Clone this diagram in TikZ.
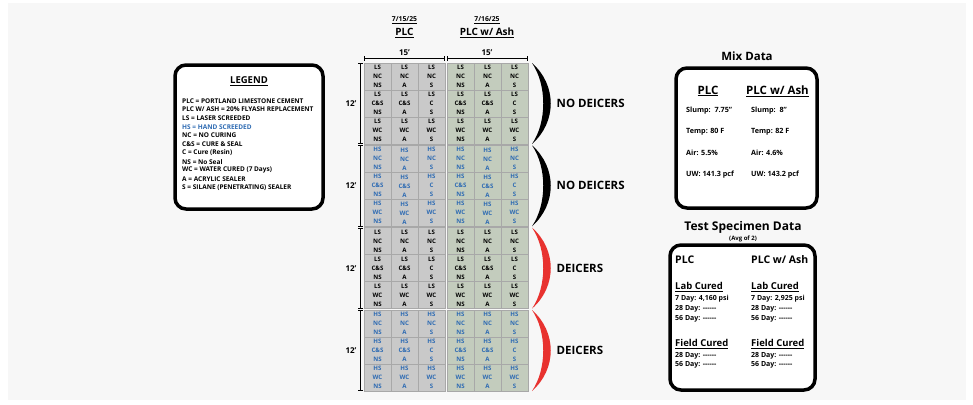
\documentclass[tikz,border=0pt]{standalone}
\usepackage{fontspec}
\setmainfont{Open Sans}
\usetikzlibrary{arrows.meta}
\definecolor{bgc}{HTML}{F7F7F7}
\definecolor{cellgrey}{HTML}{C9C9C9}
\definecolor{cellgreen}{HTML}{C3CCBD}
\definecolor{gridc}{HTML}{A8A8A8}
\definecolor{hsblue}{HTML}{2E6BB3}
\definecolor{brred}{HTML}{E8322F}
\newcommand{\fs}[2]{\fontsize{#1}{#2}\selectfont\bfseries}
\tikzset{
  cellbox/.style={draw=gridc, line width=0.5pt, minimum width=27pt, minimum height=27pt,
    inner sep=0pt, align=center, font=\fs{6.1}{9}},
  dimline/.style={line width=0.8pt, {Bar[width=5pt]}-{Bar[width=5pt]}},
  dimlabel/.style={font=\fs{8}{9}, inner sep=0pt},
  panel/.style={draw=black, line width=3.5pt, rounded corners=11pt, fill=white},
  sidetext/.style={font=\fs{11.5}{13}, anchor=west, inner sep=0pt},
  legitem/.style={font=\fs{6.5}{7}, anchor=west, inner sep=0pt},
  mixitem/.style={font=\fs{7.2}{8}, anchor=west, inner sep=0pt},
  testitem/.style={font=\fs{7}{8}, anchor=west, inner sep=0pt},
}
\begin{document}
\begin{tikzpicture}[x=1pt,y=-1pt]
\useasboundingbox (0,0) rectangle (973,404);
\fill[white] (0,0) rectangle (973,404);
\fill[bgc] (8,3) rectangle (966,400);

% headers
\node[font=\fs{6.8}{8}, inner sep=0pt] (d1) at (404.5,20) {\underline{7/15/25}};
\node[font=\fs{10}{12}, inner sep=0pt] (h1) at (404.5,33) {\underline{PLC}};
\node[font=\fs{6.8}{8}, inner sep=0pt] (d2) at (487,20) {\underline{7/16/25}};
\node[font=\fs{10}{12}, inner sep=0pt] (h2) at (487,33) {\underline{PLC w/ Ash}};

% horizontal dimensions
\coordinate (ga) at (364,58.5); \coordinate (gb) at (445,58.5);
\coordinate (na) at (447,58.5); \coordinate (nb) at (527.5,58.5);
\draw[dimline] (ga) -- (gb);
\draw[dimline] (na) -- (nb);
\node[dimlabel] (w1) at (404.5,52.5) {15'};
\node[dimlabel] (w2) at (487,52.5) {15'};

% cells
\foreach \s/\ty/\fw/\tc in {0/63/LS/black, 1/145.3/HS/hsblue, 2/227.6/LS/black, 3/310/HS/hsblue} {
  \foreach \b/\xb/\fc in {g/364/cellgrey, n/447/cellgreen} {
    \foreach \r/\mtx in {0/NC, 1/{C\&S}, 2/WC} {
      \foreach \c/\lw in {0/NS, 1/A, 2/S} {
        \ifnum\r=1 \ifnum\c=2 \def\mm{C}\else\def\mm{\mtx}\fi\else\def\mm{\mtx}\fi
        \node[cellbox, fill=\fc, text=\tc] (c\s\b\r\c) at (\xb+27*\c+13.5, \ty+27*\r+13.5) {\fw\\\mm\\\lw};
      }
    }
  }
  % vertical dimension
  \coordinate (va\s) at (360.5,\ty);
  \coordinate (vb\s) at (360.5,\ty+81);
  \draw[dimline] (va\s) -- (vb\s);
  \node[dimlabel] (hl\s) at (351,\ty+40.5) {12'};
}

% brackets
\foreach \s/\ty/\bc/\lab in {0/63/black/NO DEICERS, 1/145.3/black/NO DEICERS, 2/227.6/brred/DEICERS, 3/310/brred/DEICERS} {
  \fill[\bc] (532,\ty) .. controls (557,\ty+22) and (557,\ty+59) .. (532,\ty+81)
     .. controls (547,\ty+59) and (547,\ty+22) .. (532,\ty) -- cycle;
  \node[sidetext] (lab\s) at (556.5,\ty+40.5) {\lab};
}

% legend
\draw[panel] (175,65) rectangle (323,209);
\node[font=\fs{9.5}{10}, inner sep=0pt] (legt) at (249,81) {\underline{LEGEND}};
\node[legitem] (l1) at (182,100.7) {PLC = PORTLAND LIMESTONE CEMENT};
\node[legitem] (l2) at (182,109.4) {PLC W/ ASH = 20\% FLYASH REPLACEMENT};
\node[legitem] (l3) at (182,118.1) {LS = LASER SCREEDED};
\node[legitem, text=hsblue] (l4) at (182,126.8) {HS = HAND SCREEDED};
\node[legitem] (l5) at (182,135.5) {NC = NO CURING};
\node[legitem] (l6) at (182,144.2) {C\&S = CURE \& SEAL};
\node[legitem] (l7) at (182,152.9) {C = Cure (Resin)};
\node[legitem] (l8) at (182,161.6) {NS = No Seal};
\node[legitem] (l9) at (182,170.3) {WC = WATER CURED (7 Days)};
\node[legitem] (l10) at (182,179) {A = ACRYLIC SEALER};
\node[legitem] (l11) at (182,187.7) {S = SILANE (PENETRATING) SEALER};

% mix data
\node[font=\fs{11.5}{13}, inner sep=0pt] (mixt) at (747,56) {Mix Data};
\draw[panel] (676,68) rectangle (817,208);
\node[font=\fs{11.5}{13}, inner sep=0pt] (mh1) at (708,91) {\underline{PLC}};
\node[font=\fs{11.5}{13}, inner sep=0pt] (mh2) at (777.5,91) {\underline{PLC w/ Ash}};
\node[mixitem] (m1) at (686,111) {Slump:\ \ 7.75"};
\node[mixitem] (m2) at (686,132) {Temp: 80 F};
\node[mixitem] (m3) at (686,153) {Air: 5.5\%};
\node[mixitem] (m4) at (686,175) {UW: 141.3 pcf};
\node[mixitem] (n1) at (751,111) {Slump:\ \ 8"};
\node[mixitem] (n2) at (751,132) {Temp: 82 F};
\node[mixitem] (n3) at (751,153) {Air: 4.6\%};
\node[mixitem] (n4) at (751,175) {UW: 143.2 pcf};

% test specimen data
\node[font=\fs{12}{14}, inner sep=0pt] (tst) at (743,227) {Test Specimen Data};
\node[font=\fs{6}{7}, inner sep=0pt] (avg) at (743,239) {(Avg of 2)};
\draw[panel] (670,245) rectangle (815,390);
\node[font=\fs{10.5}{12}, anchor=west, inner sep=0pt] (tp1) at (675,260) {PLC};
\node[font=\fs{10.5}{12}, anchor=west, inner sep=0pt] (tp2) at (751,260) {PLC w/ Ash};
\node[font=\fs{9.5}{11}, anchor=west, inner sep=0pt] (lc1) at (675,287) {\underline{Lab Cured}};
\node[font=\fs{9.5}{11}, anchor=west, inner sep=0pt] (lc2) at (751,287) {\underline{Lab Cured}};
\node[testitem] (a1) at (675,299) {7 Day: 4,160 psi};
\node[testitem] (a2) at (675,309) {28 Day: -{}-{}-{}-{}-{}-};
\node[testitem] (a3) at (675,318.5) {56 Day: -{}-{}-{}-{}-{}-};
\node[testitem] (b1) at (751,299) {7 Day: 2,925 psi};
\node[testitem] (b2) at (751,309) {28 Day: -{}-{}-{}-{}-{}-};
\node[testitem] (b3) at (751,318.5) {56 Day: -{}-{}-{}-{}-{}-};
\node[font=\fs{9.5}{11}, anchor=west, inner sep=0pt] (fc1) at (675,344) {\underline{Field Cured}};
\node[font=\fs{9.5}{11}, anchor=west, inner sep=0pt] (fc2) at (751,344) {\underline{Field Cured}};
\node[testitem] (a4) at (675,356) {28 Day: -{}-{}-{}-{}-{}-};
\node[testitem] (a5) at (675,365) {56 Day: -{}-{}-{}-{}-{}-};
\node[testitem] (b4) at (751,356) {28 Day: -{}-{}-{}-{}-{}-};
\node[testitem] (b5) at (751,365) {56 Day: -{}-{}-{}-{}-{}-};
\end{tikzpicture}
\end{document}
